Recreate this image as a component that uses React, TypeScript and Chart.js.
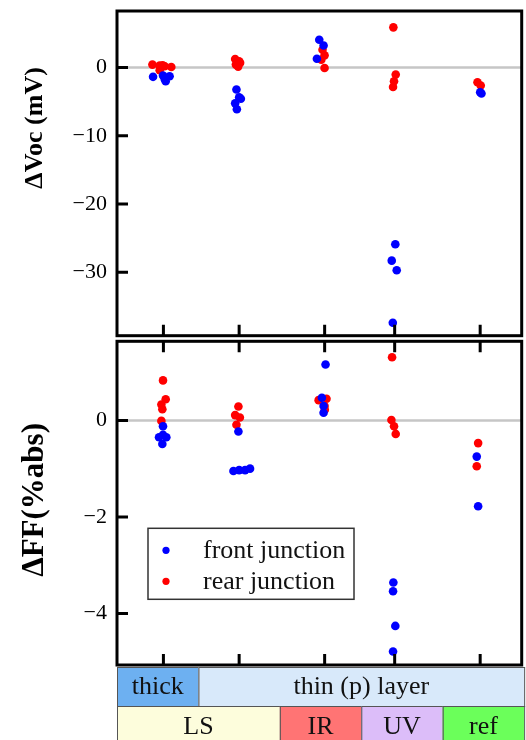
import React, { useEffect, useRef } from 'react';
import { Chart, registerables } from 'chart.js';

Chart.register(...registerables);

const FONT = '"Liberation Serif", "Times New Roman", serif';

// ---- data ----
const groupNames = ['thick LS', 'thin LS', 'IR', 'UV', 'ref'];
const groupTickX = [0.57, 1.5, 2.55, 3.41, 4.46];
const xMin = 0;
const xMax = 4.97;

const seriesLabels = ['front junction', 'rear junction'];

// ΔVoc (mV)
const vocFrontX = [0.443, 0.585, 0.646, 0.598, 0.565, 1.467, 1.521, 1.5, 1.451, 1.472, 2.484, 2.537, 2.455, 3.418, 3.374, 3.435, 3.387, 4.46, 4.476];
const vocFrontY = [-1.35, -1.65, -1.26, -1.99, -1.16, -3.2, -4.56, -4.35, -5.24, -6.1, 4.08, 3.25, 1.31, -25.9, -28.3, -29.7, -37.4, -3.6, -3.8];
const vocRearX = [0.435, 0.524, 0.585, 0.667, 0.524, 0.561, 1.451, 1.5, 1.46, 1.488, 1.512, 2.524, 2.549, 2.509, 2.549, 3.394, 3.423, 3.402, 3.39, 4.427, 4.467];
const vocRearY = [0.44, 0.29, 0.19, 0.1, -0.39, 0.35, 1.26, 0.92, 0.44, 0.15, 0.7, 2.62, 1.8, 1.16, -0.05, 5.9, -1.0, -2.0, -2.85, -2.14, -2.62];

// ΔFF (%abs)
const ffFrontX = [0.565, 0.516, 0.606, 0.565, 0.557, 1.491, 1.43, 1.5, 1.573, 1.634, 2.561, 2.516, 2.537, 2.537, 3.394, 3.39, 3.418, 3.39, 4.418, 4.435];
const ffFrontY = [-0.12, -0.35, -0.35, -0.3, -0.49, -0.23, -1.05, -1.03, -1.03, -1.0, 1.16, 0.47, 0.16, 0.3, -3.36, -3.54, -4.26, -4.79, -0.75, -1.78];
const ffRearX = [0.565, 0.598, 0.545, 0.557, 0.545, 1.491, 1.451, 1.509, 1.467, 2.476, 2.573, 2.549, 2.552, 3.378, 3.37, 3.402, 3.423, 4.435, 4.418];
const ffRearY = [0.83, 0.44, 0.33, 0.23, -0.01, 0.29, 0.11, 0.06, -0.09, 0.42, 0.45, 0.3, 0.22, 1.31, 0.01, -0.12, -0.28, -0.47, -0.95];

const vocRange = [-39.3, 8.3];
const vocStep = 10;
const ffRange = [-5.07, 1.64];
const ffStep = 2;

// category table
const row1Labels = ['thick', 'thin (p) layer'];
const row1Spans = [[0, 1], [1, 5]];
const row2Labels = ['LS', 'IR', 'UV', 'ref'];
const row2Spans = [[0, 2], [2, 3], [3, 4], [4, 5]];

// ---- styles ----
const FRONT_COLOR = '#0000ff';
const REAR_COLOR = '#ff0000';
const row1Colors = ['#6db0f1', '#d8e9fa'];
const row2Colors = ['#fdfddc', '#ff7474', '#dcbdf9', '#6bff5a'];

const zip = (xs: number[], ys: number[]) => xs.map((x, i) => ({ x, y: ys[i] }));
const fmt = (v: number) => String(v).replace('-', '\u2212');

type PanelOpts = {
  title: string;
  titleFrac: number;
  titleSize: number;
  xTicksTop: boolean;
  legend: boolean;
  table: boolean;
};

function makePanelPlugin(o: PanelOpts) {
  return {
    id: 'panelDeco',
    beforeDatasetsDraw(chart: any) {
      const { ctx, chartArea: a, scales } = chart;
      const y0 = scales.y.getPixelForValue(0);
      ctx.save();
      ctx.strokeStyle = '#c6c6c6';
      ctx.lineWidth = 2.5;
      ctx.beginPath();
      ctx.moveTo(a.left, y0);
      ctx.lineTo(a.right, y0);
      ctx.stroke();
      ctx.restore();
    },
    afterDraw(chart: any) {
      const { ctx, chartArea: a, scales } = chart;
      ctx.save();
      // frame
      ctx.strokeStyle = '#000';
      ctx.lineWidth = 3;
      ctx.strokeRect(a.left, a.top, a.right - a.left, a.bottom - a.top);
      // y ticks (inward)
      ctx.beginPath();
      for (const t of scales.y.ticks) {
        const py = scales.y.getPixelForValue(t.value);
        ctx.moveTo(a.left, py);
        ctx.lineTo(a.left + 11, py);
      }
      // x ticks
      for (const v of groupTickX) {
        const px = scales.x.getPixelForValue(v);
        ctx.moveTo(px, a.bottom);
        ctx.lineTo(px, a.bottom - 11);
        if (o.xTicksTop) {
          ctx.moveTo(px, a.top);
          ctx.lineTo(px, a.top + 11);
        }
      }
      ctx.stroke();

      // y title
      ctx.save();
      ctx.translate(35, a.top + (a.bottom - a.top) * o.titleFrac);
      ctx.rotate(-Math.PI / 2);
      ctx.font = `bold ${o.titleSize}px ${FONT}`;
      ctx.fillStyle = '#000';
      ctx.textAlign = 'center';
      ctx.textBaseline = 'middle';
      ctx.fillText(o.title, 0, 0);
      ctx.restore();

      // legend
      if (o.legend) {
        const bx = a.left + 31;
        const by = a.top + 187;
        const bw = 206;
        const bh = 71;
        ctx.fillStyle = '#fff';
        ctx.fillRect(bx, by, bw, bh);
        ctx.strokeStyle = '#333';
        ctx.lineWidth = 1.5;
        ctx.strokeRect(bx, by, bw, bh);
        chart.data.datasets.forEach((ds: any, i: number) => {
          const cy = by + 22 + i * 31;
          ctx.fillStyle = ds.backgroundColor;
          ctx.beginPath();
          ctx.arc(bx + 18, cy, 3.6, 0, Math.PI * 2);
          ctx.fill();
          ctx.fillStyle = '#111';
          ctx.font = `26px ${FONT}`;
          ctx.textAlign = 'left';
          ctx.textBaseline = 'middle';
          ctx.fillText(ds.label, bx + 55, cy + 1);
        });
      }

      // category table
      if (o.table) {
        const rows = [
          { labels: row1Labels, spans: row1Spans, colors: row1Colors, top: a.bottom + 2, h: 39 },
          { labels: row2Labels, spans: row2Spans, colors: row2Colors, top: a.bottom + 41, h: 40 },
        ];
        for (const r of rows) {
          r.labels.forEach((lab, i) => {
            const x1 = scales.x.getPixelForValue(r.spans[i][0]);
            const x2 = scales.x.getPixelForValue(r.spans[i][1]);
            ctx.fillStyle = r.colors[i];
            ctx.fillRect(x1, r.top, x2 - x1, r.h);
            ctx.strokeStyle = '#555';
            ctx.lineWidth = 1;
            ctx.strokeRect(x1 + 0.5, r.top + 0.5, x2 - x1, r.h);
            ctx.fillStyle = '#111';
            ctx.font = `26px ${FONT}`;
            ctx.textAlign = 'center';
            ctx.textBaseline = 'middle';
            ctx.fillText(lab, (x1 + x2) / 2, r.top + r.h / 2 + 1);
          });
        }
      }
      ctx.restore();
    },
  };
}

function makeConfig(
  front: { x: number; y: number }[],
  rear: { x: number; y: number }[],
  range: number[],
  step: number,
  padding: { top: number; bottom: number },
  plugin: any
): any {
  return {
    type: 'scatter',
    data: {
      datasets: [
        { label: seriesLabels[0], data: front, backgroundColor: FRONT_COLOR, borderWidth: 0, pointRadius: 4.3 },
        { label: seriesLabels[1], data: rear, backgroundColor: REAR_COLOR, borderWidth: 0, pointRadius: 4.3 },
      ],
    },
    options: {
      animation: false,
      responsive: true,
      maintainAspectRatio: false,
      events: [],
      layout: { padding: { top: padding.top, bottom: padding.bottom, left: 0, right: 1 } },
      plugins: { legend: { display: false }, tooltip: { enabled: false } },
      scales: {
        x: { type: 'linear', min: xMin, max: xMax, display: false },
        y: {
          type: 'linear',
          min: range[0],
          max: range[1],
          grid: { display: false, drawTicks: false },
          border: { display: false },
          afterFit: (s: any) => {
            s.width = 117;
            s.paddingTop = 0;
            s.paddingBottom = 0;
            s.paddingLeft = 0;
            s.paddingRight = 0;
          },
          ticks: {
            stepSize: step,
            includeBounds: false,
            padding: 10,
            color: '#000',
            font: { family: FONT, size: 22 },
            callback: (v: number) => fmt(v),
          },
        },
      },
    },
    plugins: [plugin],
  };
}

export default function App() {
  const topRef = useRef<HTMLCanvasElement>(null);
  const botRef = useRef<HTMLCanvasElement>(null);

  useEffect(() => {
    const top = new Chart(
      topRef.current!,
      makeConfig(
        zip(vocFrontX, vocFrontY),
        zip(vocRearX, vocRearY),
        vocRange,
        vocStep,
        { top: 11, bottom: 2 },
        makePanelPlugin({ title: '\u0394Voc (mV)', titleFrac: 0.36, titleSize: 26, xTicksTop: false, legend: false, table: false })
      )
    );
    const bot = new Chart(
      botRef.current!,
      makeConfig(
        zip(ffFrontX, ffFrontY),
        zip(ffRearX, ffRearY),
        ffRange,
        ffStep,
        { top: 1, bottom: 75 },
        makePanelPlugin({ title: '\u0394FF(%abs)', titleFrac: 0.49, titleSize: 31, xTicksTop: true, legend: true, table: true })
      )
    );
    return () => {
      top.destroy();
      bot.destroy();
    };
  }, []);

  return (
    <div style={{ position: 'absolute', left: 0, top: 0, width: 526, height: 740, background: '#fff', overflow: 'hidden' }}>
      <div style={{ position: 'absolute', left: 0, top: 0, width: 526, height: 340 }}>
        <canvas ref={topRef} />
      </div>
      <div style={{ position: 'absolute', left: 0, top: 337, width: 526, height: 403 }}>
        <canvas ref={botRef} />
      </div>
    </div>
  );
}
